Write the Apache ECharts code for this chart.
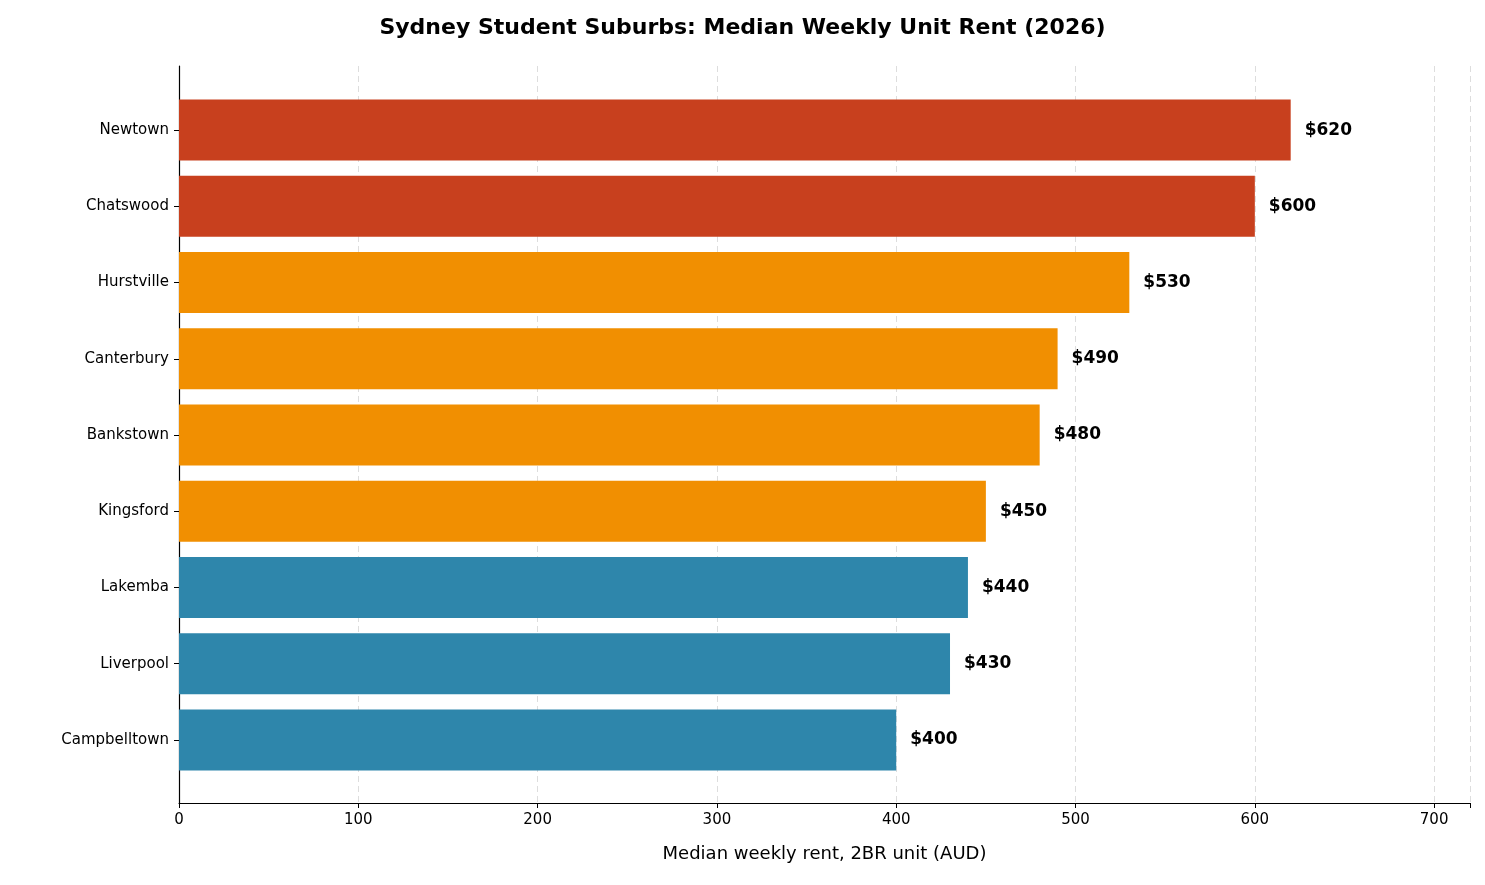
<!DOCTYPE html>
<html><head><meta charset="utf-8">
<script src="https://cdn.jsdelivr.net/npm/echarts@6/dist/echarts.min.js"></script>
<style>html,body{margin:0;padding:0;background:#fff}#c{width:1485px;height:885px}</style>
</head><body><div id="c"></div>
<script>
const suburbs = ['Newtown','Chatswood','Hurstville','Canterbury','Bankstown','Kingsford','Lakemba','Liverpool','Campbelltown'];
const rents = [620,600,530,490,480,450,440,430,400];
const tiers = ['high','high','mid','mid','mid','mid','low','low','low'];
const tierColors = {high:'#C8401E', mid:'#F18F01', low:'#2E86AB'};
const xTicks = [0,100,200,300,400,500,600,700];

const chart = echarts.init(document.getElementById('c'));
const font = 'DejaVu Sans';
chart.setOption({
  animation:false,
  textStyle:{fontFamily:font},
  title:{text:'Sydney Student Suburbs: Median Weekly Unit Rent (2026)',left:'center',top:12,
    textStyle:{fontFamily:font,fontSize:22,fontWeight:'bold',color:'#000'}},
  grid:[
    {left:179,right:15,top:66,bottom:82},
    {left:179,right:15,top:92,bottom:107}
  ],
  xAxis:[
    {gridIndex:0,type:'value',min:0,max:720,interval:100,
     name:'Median weekly rent, 2BR unit (AUD)',nameLocation:'middle',nameGap:42,
     nameTextStyle:{fontSize:18,color:'#000',fontFamily:font},
     axisLine:{show:true,lineStyle:{color:'#000',width:1.2}},
     axisTick:{show:true,length:5,lineStyle:{color:'#000'}},
     axisLabel:{fontSize:15,color:'#000',margin:10,formatter:v=>xTicks.includes(v)?String(v):''},
     splitLine:{show:true,lineStyle:{type:[6,4],color:'#dddddd',width:1}}},
    {gridIndex:1,type:'value',min:0,max:720,show:false,splitLine:{show:false}}
  ],
  yAxis:[
    {gridIndex:0,type:'value',min:0,max:1,axisLine:{show:true,lineStyle:{color:'#000',width:1.2}},
     axisTick:{show:false},axisLabel:{show:false},splitLine:{show:false}},
    {gridIndex:1,type:'category',data:suburbs,inverse:true,
     axisLine:{show:false},axisTick:{show:true,alignWithLabel:true,length:5,lineStyle:{color:'#000'}},
     axisLabel:{fontSize:15,color:'#000',margin:10}}
  ],
  series:[{
    type:'bar',xAxisIndex:1,yAxisIndex:1,barCategoryGap:'20%',
    data:rents.map((v,i)=>({value:v,itemStyle:{color:tierColors[tiers[i]]}})),
    label:{show:true,position:'right',distance:14,formatter:p=>'$'+p.value,
      fontSize:17,fontWeight:'bold',color:'#000',fontFamily:font}
  }]
});
</script></body></html>
